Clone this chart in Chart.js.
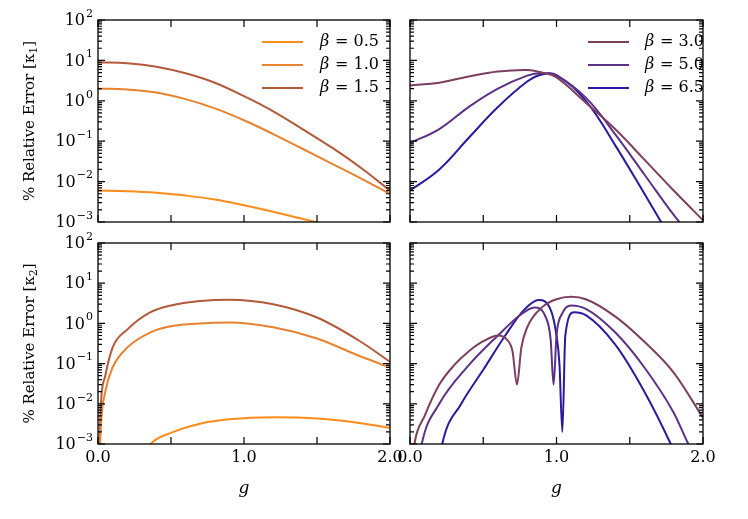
<!DOCTYPE html>
<html><head><meta charset="utf-8">
<script src="https://cdn.jsdelivr.net/npm/chart.js@4"></script>
<style>body{margin:0;background:#fff}canvas{position:absolute;left:0;top:0}</style>
</head><body>
<canvas id="c0" width="748" height="519"></canvas>
<canvas id="c1" width="748" height="519"></canvas>
<canvas id="c2" width="748" height="519"></canvas>
<canvas id="c3" width="748" height="519"></canvas>
<script>
const betaLabels = ['β = 0.5','β = 1.0','β = 1.5','β = 3.0','β = 5.0','β = 6.5'];
const colors = ['#ff8c1a','#e8822e','#b35a3a','#7d3f5f','#5c3285','#2a1aa0'];
// panel (a) kappa1, low beta
const gA = [0,0.2,0.4,0.6,0.8,1.0,1.2,1.4,1.6,1.8,2.0];
const k1_b05 = [6e-3,5.8e-3,5.3e-3,4.5e-3,3.6e-3,2.6e-3,1.8e-3,1.2e-3,0.8e-3,0.55e-3,0.35e-3];
const k1_b10 = [2.0,1.9,1.6,1.1,0.65,0.33,0.15,0.065,0.028,0.012,0.005];
const k1_b15 = [9.0,8.5,7.0,4.8,2.8,1.3,0.55,0.2,0.07,0.022,0.006];
// panel (b) kappa1, high beta
const gB = [0,0.2,0.4,0.6,0.8,0.9,1.0,1.2,1.4,1.6,1.8,2.0];
const k1_b30 = [2.4,2.8,4.0,5.3,5.8,5.0,3.8,0.9,0.2,0.035,0.006,0.0011];
const k1_b50 = [0.09,0.2,0.7,2.0,4.2,4.8,4.2,1.2,0.15,0.015,0.0015,0.0002];
const k1_b65 = [0.006,0.02,0.12,0.7,3.0,4.5,4.3,1.0,0.08,0.005,0.0003,0.00002];
// panel (c) kappa2, low beta
const gC = [0.005,0.02,0.05,0.1,0.2,0.36,0.5,0.7,0.9,1.2,1.5,1.8,2.0];
const k2_b05 = [1e-5,1e-5,1e-5,1e-5,1e-4,1e-3,1.9e-3,3.2e-3,4.1e-3,4.6e-3,4.3e-3,3.3e-3,2.5e-3];
const k2_b10 = [1e-4,0.003,0.02,0.08,0.25,0.6,0.85,1.0,1.05,0.8,0.42,0.15,0.08];
const k2_b15 = [2e-4,0.01,0.05,0.25,0.7,1.9,2.8,3.6,3.9,3.0,1.4,0.35,0.11];
// panel (d) kappa2, high beta
const gD3 = [0,0.03,0.1,0.2,0.3,0.4,0.5,0.6,0.66,0.7,0.73,0.76,0.8,0.9,1.0,1.1,1.2,1.4,1.6,1.8,2.0];
const k2_b30 = [1e-4,1e-3,0.005,0.03,0.09,0.2,0.36,0.5,0.4,0.2,0.03,0.25,0.8,2.5,4.0,4.6,4.0,1.5,0.35,0.06,0.0045];
const gD5 = [0.04,0.08,0.2,0.4,0.6,0.75,0.85,0.92,0.96,0.98,1.0,1.04,1.1,1.2,1.4,1.6,1.8,1.9,2.0];
const k2_b50 = [1e-4,1e-3,0.01,0.09,0.5,1.6,2.5,1.6,0.4,0.03,0.5,1.8,2.8,2.3,0.6,0.08,0.006,0.001,0.0002];
const gD6 = [0.18,0.22,0.35,0.5,0.65,0.78,0.88,0.96,1.0,1.02,1.04,1.06,1.12,1.2,1.4,1.6,1.78,1.9];
const k2_b65 = [1e-4,1e-3,0.01,0.07,0.5,2.2,3.8,2.2,0.5,0.1,0.002,0.5,1.9,1.6,0.3,0.02,0.001,0.0001];

const xTicks=[0,0.5,1,1.5,2], xLabels=['0.0','1.0','2.0'];
const panels=[
 {id:'c0',box:[98,20,390,222],xs:[gA,gA,gA],ys:[k1_b05,k1_b10,k1_b15],ci:[0,1,2],ylab:'1',xl:false,leg:[262,320],mono:false},
 {id:'c1',box:[410,20,703,222],xs:[gB,gB,gB],ys:[k1_b30,k1_b50,k1_b65],ci:[3,4,5],ylab:null,xl:false,leg:[588,645],mono:false},
 {id:'c2',box:[98,243,390,444],xs:[gC,gC,gC],ys:[k2_b05,k2_b10,k2_b15],ci:[0,1,2],ylab:'2',xl:true,mono:true},
 {id:'c3',box:[410,243,703,444],xs:[gD3,gD5,gD6],ys:[k2_b30,k2_b50,k2_b65],ci:[3,4,5],ylab:null,xl:true,mono:true}
];
const SERIF='"DejaVu Serif", "Liberation Serif", serif';
panels.forEach(p=>{
 const [l,t,r,b]=p.box;
 const deco={id:'deco',afterDraw(ch){
  const c=ch.ctx,x=ch.scales.x,y=ch.scales.y,a=ch.chartArea;
  c.save();c.strokeStyle='#000';c.lineWidth=1.3;
  c.strokeRect(a.left,a.top,a.right-a.left,a.bottom-a.top);
  c.lineWidth=1.2;c.beginPath();
  xTicks.forEach(v=>{const px=x.getPixelForValue(v);c.moveTo(px,a.bottom);c.lineTo(px,a.bottom-7);c.moveTo(px,a.top);c.lineTo(px,a.top+7);});
  for(let e=-3;e<=2;e++){for(let m=1;m<=9;m++){const v=m*Math.pow(10,e);if(v>100)continue;const py=y.getPixelForValue(v);const L=m===1?7:4;c.moveTo(a.left,py);c.lineTo(a.left+L,py);c.moveTo(a.right,py);c.lineTo(a.right-L,py);}}
  c.stroke();
  c.fillStyle='#000';
  if(p.ylab){
   for(let e=-3;e<=2;e++){const py=y.getPixelForValue(Math.pow(10,e));
    c.textBaseline='middle';
    const s=String(e).replace('-','−');c.font='11px '+SERIF;const sw=c.measureText(s).width;
    c.textAlign='left';c.fillText(s,a.left-5-sw,py-6);
    c.font='16px '+SERIF;c.textAlign='right';c.fillText('10',a.left-6-sw,py+1);}
   c.save();c.translate(30,(a.top+a.bottom)/2);c.rotate(-Math.PI/2);c.textBaseline='middle';
   c.font='15px '+SERIF;const base='% Relative Error [κ';const w1=c.measureText(base).width;c.font='11px '+SERIF;const w2=c.measureText(p.ylab).width;c.font='15px '+SERIF;const w3=c.measureText(']').width;
   let sx=-(w1+w2+w3)/2;c.textAlign='left';c.fillText(base,sx,0);c.font='11px '+SERIF;c.fillText(p.ylab,sx+w1,4);c.font='15px '+SERIF;c.fillText(']',sx+w1+w2,0);
   c.restore();
  }
  if(p.xl){c.font='16px '+SERIF;c.textAlign='center';c.textBaseline='top';
   [0,1,2].forEach((v,i)=>c.fillText(xLabels[i],x.getPixelForValue(v),a.bottom+6));
   c.font='italic 17px '+SERIF;c.fillText('g',(a.left+a.right)/2,a.bottom+36);}
  if(p.leg){p.ci.forEach((ci,i)=>{const yy=42+i*23;c.strokeStyle=colors[ci];c.lineWidth=2;c.beginPath();c.moveTo(p.leg[0],yy);c.lineTo(p.leg[0]+41,yy);c.stroke();
   c.font='italic 16px '+SERIF;c.textAlign='left';c.textBaseline='middle';c.fillStyle='#000';c.fillText('β',p.leg[1],yy);
   c.font='16px '+SERIF;c.fillText(betaLabels[ci].slice(1),p.leg[1]+10,yy);});}
  c.restore();}};
 new Chart(document.getElementById(p.id),{type:'line',
  data:{datasets:p.ys.map((ys,i)=>({label:betaLabels[p.ci[i]],data:ys.map((v,j)=>({x:p.xs[i][j],y:v})),borderColor:colors[p.ci[i]],borderWidth:2,pointRadius:0,tension:0.4,cubicInterpolationMode:p.mono?'monotone':'default',fill:false}))},
  options:{responsive:false,animation:false,layout:{padding:{left:l,top:t,right:748-r,bottom:519-b}},
   plugins:{legend:{display:false},tooltip:{enabled:false}},
   scales:{x:{type:'linear',min:0,max:2,display:false},y:{type:'logarithmic',min:1e-3,max:100,display:false}}},
  plugins:[deco]});
});
</script></body></html>
